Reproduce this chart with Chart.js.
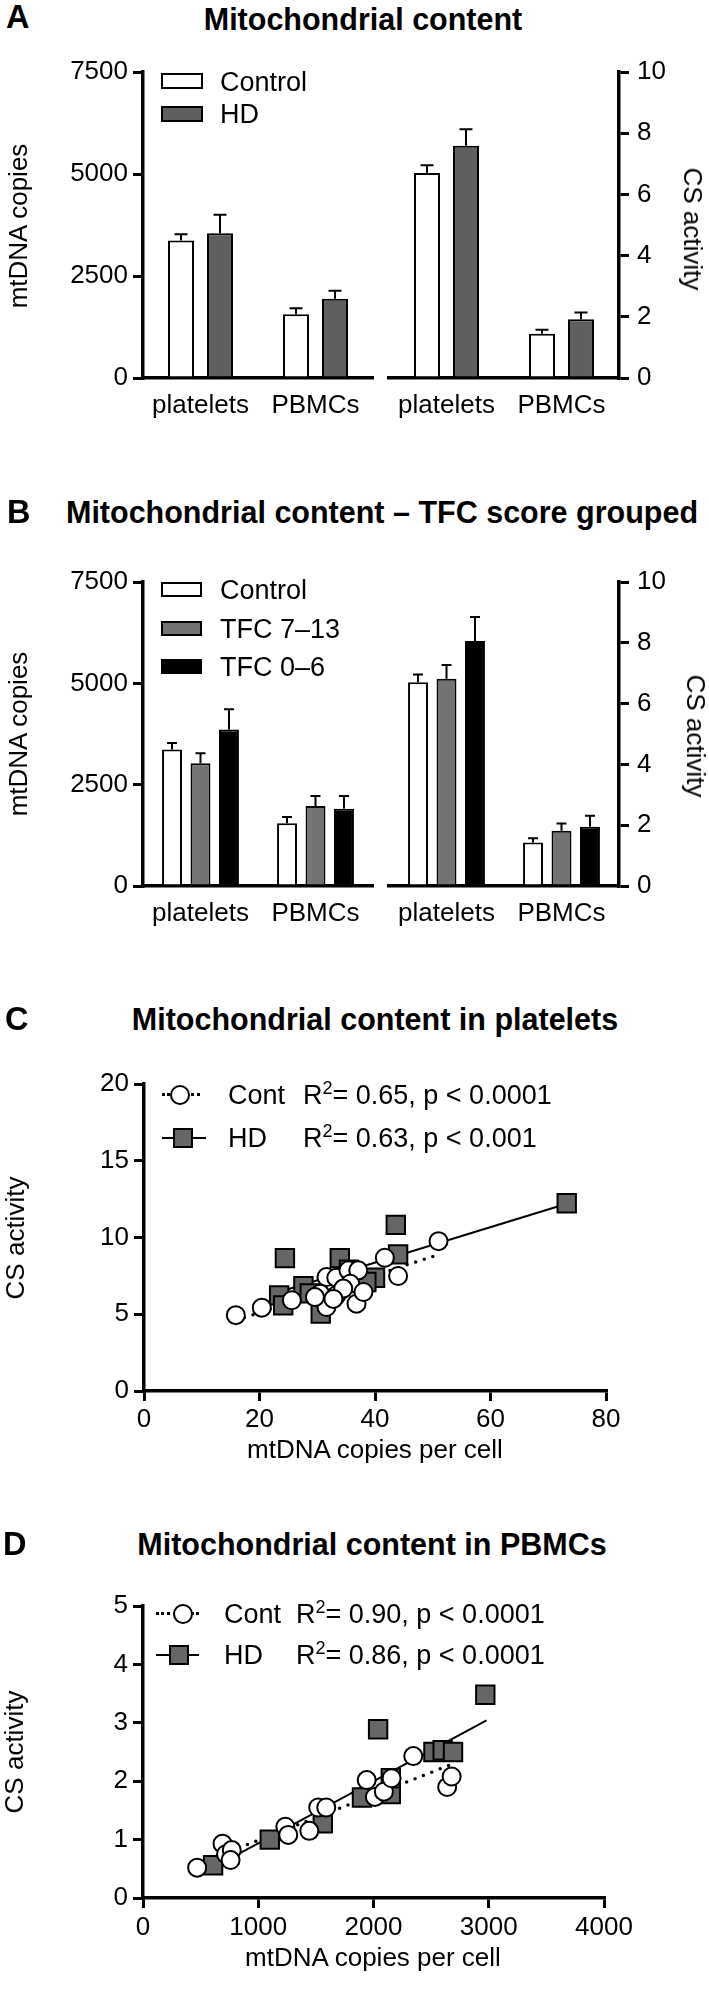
<!DOCTYPE html>
<html>
<head>
<meta charset="utf-8">
<script src="https://cdn.jsdelivr.net/npm/chart.js@4.4.0/dist/chart.umd.min.js"></script>
<style>
  body { margin: 0; background: #fff; }
  #page { position: relative; width: 709px; height: 1998px; overflow: hidden;
          font-family: 'Liberation Sans', Arial, sans-serif; color: #000; background: #fff; }
  canvas { position: absolute; }
  .t { position: absolute; white-space: nowrap; line-height: 1; }
  .letter { font-weight: bold; font-size: 32.5px; }
  .title { font-weight: bold; font-size: 30.5px; transform: translateX(-50%); }
  .ax { font-size: 26px; transform: translate(-50%, -50%); }
  .rotL { font-size: 26px; transform: translate(-50%, -50%) rotate(-90deg); }
  .rotR { font-size: 26px; transform: translate(-50%, -50%) rotate(90deg); }
  .leg { font-size: 27px; transform: translateY(-50%); }
  .leg sup { font-size: 18px; vertical-align: 0; position: relative; top: -10px; }
  .box { position: absolute; border: 2px solid #000; box-sizing: border-box; }
  .dot { position: absolute; border-top: 3.5px dotted #000; height: 0; }
  .solid { position: absolute; border-top: 2px solid #000; height: 0; }
  .circ { position: absolute; width: 20px; height: 20px; border: 2px solid #000; border-radius: 50%;
          background: #fff; box-sizing: border-box; }
  .sq { position: absolute; width: 20px; height: 20px; border: 2px solid #000; background: #666;
        box-sizing: border-box; }
</style>
</head>
<body>
<div id="page">
  <canvas id="aMt"></canvas><canvas id="aCs"></canvas>
  <canvas id="bMt"></canvas><canvas id="bCs"></canvas>
  <canvas id="cSc"></canvas><canvas id="dSc"></canvas>

  <!-- panel A -->
  <div class="t letter" style="left:6px; top:1px">A</div>
  <div class="t title" style="left:363px; top:4px">Mitochondrial content</div>
  <div class="t rotL" style="left:18px; top:226px">mtDNA copies</div>
  <div class="t rotR" style="left:693px; top:229px">CS activity</div>
  <div class="box" style="left:161px; top:73px; width:42px; height:16px; background:#fff"></div>
  <div class="box" style="left:161px; top:106px; width:42px; height:16px; background:#5f5f5f"></div>
  <div class="t leg" style="left:220px; top:82px">Control</div>
  <div class="t leg" style="left:220px; top:114px">HD</div>

  <!-- panel B -->
  <div class="t letter" style="left:7px; top:496px">B</div>
  <div class="t title" style="left:382px; top:497px">Mitochondrial content – TFC score grouped</div>
  <div class="t rotL" style="left:18px; top:734px">mtDNA copies</div>
  <div class="t rotR" style="left:696px; top:736px">CS activity</div>
  <div class="box" style="left:161px; top:582px; width:41px; height:15px; background:#fff"></div>
  <div class="box" style="left:161px; top:621px; width:41px; height:15px; background:#737373"></div>
  <div class="box" style="left:161px; top:659px; width:41px; height:15px; background:#000"></div>
  <div class="t leg" style="left:220px; top:590px">Control</div>
  <div class="t leg" style="left:220px; top:629px">TFC 7–13</div>
  <div class="t leg" style="left:220px; top:667px">TFC 0–6</div>

  <!-- panel C -->
  <div class="t letter" style="left:5px; top:1003px">C</div>
  <div class="t title" style="left:375px; top:1004px">Mitochondrial content in platelets</div>
  <div class="t rotL" style="left:15px; top:1238px">CS activity</div>
  <div class="t ax" style="left:375px; top:1449px">mtDNA copies per cell</div>
  <div class="dot" style="left:162px; top:1093px; width:38px"></div>
  <div class="circ" style="left:170px; top:1085px"></div>
  <div class="solid" style="left:162px; top:1137px; width:44px"></div>
  <div class="sq" style="left:173px; top:1128px"></div>
  <div class="t leg" style="left:228px; top:1095px">Cont</div>
  <div class="t leg" style="left:303px; top:1095px">R<sup>2</sup>= 0.65, p &lt; 0.0001</div>
  <div class="t leg" style="left:228px; top:1138px">HD</div>
  <div class="t leg" style="left:303px; top:1138px">R<sup>2</sup>= 0.63, p &lt; 0.001</div>

  <!-- panel D -->
  <div class="t letter" style="left:3px; top:1528px">D</div>
  <div class="t title" style="left:372px; top:1529px">Mitochondrial content in PBMCs</div>
  <div class="t rotL" style="left:14px; top:1752px">CS activity</div>
  <div class="t ax" style="left:373px; top:1957px">mtDNA copies per cell</div>
  <div class="dot" style="left:156px; top:1612px; width:43px"></div>
  <div class="circ" style="left:173px; top:1604px"></div>
  <div class="solid" style="left:156px; top:1654px; width:43px"></div>
  <div class="sq" style="left:169px; top:1645px"></div>
  <div class="t leg" style="left:224px; top:1614px">Cont</div>
  <div class="t leg" style="left:296px; top:1614px">R<sup>2</sup>= 0.90, p &lt; 0.0001</div>
  <div class="t leg" style="left:224px; top:1655px">HD</div>
  <div class="t leg" style="left:296px; top:1655px">R<sup>2</sup>= 0.86, p &lt; 0.0001</div>
</div>

<script>
// categories and ticks
const groups = ['platelets', 'PBMCs'];
const mtTicks = [0, 2500, 5000, 7500];
const csTicks = [0, 2, 4, 6, 8, 10];
const cXTicks = [0, 20, 40, 60, 80];
const cYTicks = [0, 5, 10, 15, 20];
const dXTicks = [0, 1000, 2000, 3000, 4000];
const dYTicks = [0, 1, 2, 3, 4, 5];

// A: control vs HD (mean, SEM)
const aMtControl = [3370, 1565];
const aMtControlErr = [155, 147];
const aMtHD = [3550, 1940];
const aMtHDErr = [450, 196];
const aCsControl = [6.7, 1.45];
const aCsControlErr = [0.25, 0.13];
const aCsHD = [7.59, 1.92];
const aCsHDErr = [0.54, 0.22];

// B: TFC score grouped
const bMtControl = [3370, 1550];
const bMtControlErr = [160, 155];
const bMtTfc713 = [3031, 1972];
const bMtTfc713Err = [247, 246];
const bMtTfc06 = [3861, 1906];
const bMtTfc06Err = [500, 312];
const bCsControl = [6.7, 1.43];
const bCsControlErr = [0.26, 0.14];
const bCsTfc713 = [6.82, 1.82];
const bCsTfc713Err = [0.45, 0.24];
const bCsTfc06 = [8.06, 1.95];
const bCsTfc06Err = [0.79, 0.36];

// C: platelets scatter
const cContX = [15.9, 20.4, 25.6, 41.7, 51.0, 44.0, 31.6, 33.3, 35.4, 37.1, 35.7, 30.5, 31.6, 33.3, 36.8, 38.0, 29.6, 34.5, 32.8];
const cContY = [4.94, 5.43, 5.91, 8.68, 9.76, 7.49, 7.42, 7.38, 7.86, 7.86, 6.99, 6.34, 5.47, 6.23, 5.69, 6.45, 6.12, 6.67, 6.0];
const cHDX = [73.2, 43.6, 24.4, 33.9, 44.0, 40.0, 27.6, 23.4, 24.1, 30.6, 28.7, 35.5, 38.5];
const cHDY = [12.23, 10.82, 8.66, 8.66, 8.9, 7.38, 6.82, 6.23, 5.58, 5.04, 6.36, 7.9, 7.1];
const cContFitX = [15.9, 51.0];
const cContFitY = [4.61, 8.88];
const cHDFitX = [23.4, 73.2];
const cHDFitY = [6.45, 12.2];

// D: PBMCs scatter
const dContX = [470, 690, 720, 770, 760, 1235, 1260, 1443, 1520, 1590, 1941, 2012, 2090, 2157, 2345, 2639, 2678];
const dContY = [0.52, 0.93, 0.75, 0.82, 0.65, 1.22, 1.08, 1.15, 1.55, 1.55, 2.02, 1.73, 1.82, 2.05, 2.43, 1.9, 2.08];
const dHDX = [608, 1100, 1560, 1900, 2150, 2150, 2040, 2520, 2600, 2690, 2970];
const dHDY = [0.56, 1.0, 1.28, 1.72, 1.78, 2.05, 2.89, 2.5, 2.53, 2.5, 3.48];
const dContFitX = [470, 2680];
const dContFitY = [0.58, 2.29];
const dHDFitX = [608, 2981];
const dHDFitY = [0.52, 3.04];

const FONT = "'Liberation Sans', Arial, sans-serif";
Chart.defaults.font.family = FONT;
Chart.defaults.font.size = 26;
Chart.defaults.color = '#000';

// upward SEM bars on top of each bar
const errorBars = {
  id: 'errorBars',
  afterDatasetsDraw(chart) {
    const ctx = chart.ctx;
    const yScale = chart.scales.y;
    chart.data.datasets.forEach((ds, i) => {
      if (!ds.errors) return;
      chart.getDatasetMeta(i).data.forEach((bar, j) => {
        const top = yScale.getPixelForValue(ds.data[j] + ds.errors[j]);
        const cap = bar.width / 4;
        ctx.save();
        ctx.strokeStyle = '#000';
        ctx.lineWidth = 2;
        ctx.beginPath();
        ctx.moveTo(bar.x, bar.y);
        ctx.lineTo(bar.x, top);
        ctx.moveTo(bar.x - cap, top);
        ctx.lineTo(bar.x + cap, top);
        ctx.stroke();
        ctx.restore();
      });
    });
  }
};

const border = () => ({ color: '#000', width: 3.5 });
const tickGrid = () => ({ drawOnChartArea: false, tickLength: 10, tickWidth: 3, lineWidth: 3, color: '#000', tickColor: '#000' });

function place(id, x, y, w, h) {
  const cv = document.getElementById(id);
  cv.width = w; cv.height = h;
  cv.style.left = x + 'px'; cv.style.top = y + 'px';
  return cv;
}

function yAxis(position, max, list, width, pad) {
  return {
    type: 'linear', position: position, min: 0, max: max,
    afterBuildTicks: s => { s.ticks = list.map(v => ({ value: v })); },
    afterFit: s => { s.width = width; s.paddingTop = 0; s.paddingBottom = 0; },
    ticks: { color: '#000', padding: pad, callback: v => String(v) },
    grid: tickGrid(),
    border: border()
  };
}

function barChart(cv, pad, side, max, list, sets, cp, bp) {
  new Chart(cv, {
    type: 'bar',
    data: {
      labels: groups,
      datasets: sets.map(s => ({
        data: s[0], errors: s[1], backgroundColor: s[2], borderColor: '#000', borderWidth: 2,
        categoryPercentage: cp, barPercentage: bp
      }))
    },
    options: {
      responsive: false, animation: false, events: [],
      layout: { padding: pad, autoPadding: false },
      plugins: { legend: { display: false }, tooltip: { enabled: false } },
      scales: {
        x: {
          grid: { display: false, drawTicks: false },
          border: border(),
          ticks: { color: '#000', padding: 12, maxRotation: 0, autoSkip: false },
          afterFit: s => { s.height = 50; s.paddingLeft = 0; s.paddingRight = 0; }
        },
        y: yAxis(side, max, list, side === 'left' ? 143 : 90, side === 'left' ? 5 : 8)
      }
    },
    plugins: [errorBars]
  });
}

const pts = (xs, ys) => xs.map((x, i) => ({ x: x, y: ys[i] }));

function scatterChart(cv, pad, xMax, xList, yMax, yList, yWidth, xPad, s) {
  new Chart(cv, {
    type: 'scatter',
    data: {
      datasets: [
        { data: pts(s.contX, s.contY), pointStyle: 'circle', pointRadius: 9, pointBackgroundColor: '#fff',
          pointBorderColor: '#000', pointBorderWidth: 2, order: 0 },
        { data: pts(s.hdX, s.hdY), pointStyle: 'rect', pointRadius: 13, pointBackgroundColor: '#666',
          pointBorderColor: '#000', pointBorderWidth: 2, order: 1 },
        { data: pts(s.contFitX, s.contFitY), showLine: true, pointRadius: 0, borderColor: '#000',
          borderWidth: 3.5, borderDash: [0, 9], borderCapStyle: 'round', order: 2 },
        { data: pts(s.hdFitX, s.hdFitY), showLine: true, pointRadius: 0, borderColor: '#000',
          borderWidth: 2, order: 3 }
      ]
    },
    options: {
      responsive: false, animation: false, events: [],
      layout: { padding: pad, autoPadding: false },
      plugins: { legend: { display: false }, tooltip: { enabled: false } },
      scales: {
        x: {
          type: 'linear', min: 0, max: xMax,
          afterBuildTicks: sc => { sc.ticks = xList.map(v => ({ value: v })); },
          afterFit: sc => { sc.height = 60; sc.paddingLeft = 0; sc.paddingRight = 0; },
          ticks: { color: '#000', padding: xPad, maxRotation: 0, callback: v => String(v) },
          grid: tickGrid(),
          border: border()
        },
        y: yAxis('left', yMax, yList, yWidth, 5)
      }
    }
  });
}

// panel A
barChart(place('aMt', 0, 52, 381, 376), { top: 20, left: 0, right: 8, bottom: 0 }, 'left', 7500, mtTicks,
  [[aMtControl, aMtControlErr, '#fff'], [aMtHD, aMtHDErr, '#5f5f5f']], 0.678, 0.667);
barChart(place('aCs', 381, 52, 328, 376), { top: 20, left: 8, right: 0, bottom: 0 }, 'right', 10, csTicks,
  [[aCsControl, aCsControlErr, '#fff'], [aCsHD, aCsHDErr, '#5f5f5f']], 0.678, 0.667);

// panel B
barChart(place('bMt', 0, 562, 381, 374), { top: 20, left: 0, right: 8, bottom: 0 }, 'left', 7500, mtTicks,
  [[bMtControl, bMtControlErr, '#fff'], [bMtTfc713, bMtTfc713Err, '#737373'], [bMtTfc06, bMtTfc06Err, '#000']], 0.743, 0.70);
barChart(place('bCs', 381, 562, 328, 374), { top: 20, left: 8, right: 0, bottom: 0 }, 'right', 10, csTicks,
  [[bCsControl, bCsControlErr, '#fff'], [bCsTfc713, bCsTfc713Err, '#737373'], [bCsTfc06, bCsTfc06Err, '#000']], 0.743, 0.70);

// panel C
scatterChart(place('cSc', 0, 1064, 709, 387), { top: 20, left: 0, right: 103, bottom: 0 }, 80, cXTicks, 20, cYTicks, 144, 3,
  { contX: cContX, contY: cContY, hdX: cHDX, hdY: cHDY,
    contFitX: cContFitX, contFitY: cContFitY, hdFitX: cHDFitX, hdFitY: cHDFitY });

// panel D
scatterChart(place('dSc', 0, 1586, 709, 372), { top: 20, left: 0, right: 105, bottom: 0 }, 4000, dXTicks, 5, dYTicks, 143, 4,
  { contX: dContX, contY: dContY, hdX: dHDX, hdY: dHDY,
    contFitX: dContFitX, contFitY: dContFitY, hdFitX: dHDFitX, hdFitY: dHDFitY });
</script>
</body>
</html>
